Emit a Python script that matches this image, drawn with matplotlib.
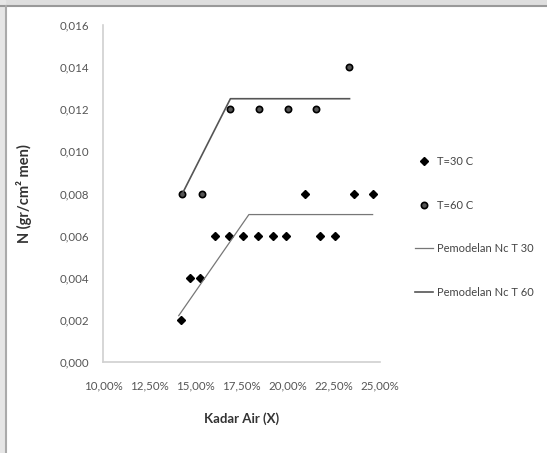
import matplotlib.pyplot as plt
from matplotlib.ticker import FuncFormatter
from matplotlib.lines import Line2D
from matplotlib.patches import Rectangle

plt.rcParams['font.family'] = ['Lato', 'DejaVu Sans']

# measured data (kadar air in %, N in gr/cm2 men)
x_t30 = [14.2, 14.7, 15.25, 16.05, 16.8, 17.6, 18.4, 19.2, 19.9, 20.95, 21.75, 22.55, 23.6, 24.6]
n_t30 = [0.002, 0.004, 0.004, 0.006, 0.006, 0.006, 0.006, 0.006, 0.006, 0.008, 0.006, 0.006, 0.008, 0.008]

x_t60 = [14.3, 15.35, 16.9, 18.45, 20.0, 21.55, 23.3]
n_t60 = [0.008, 0.008, 0.012, 0.012, 0.012, 0.012, 0.014]

# model lines
x_mod30 = [14.1, 17.9, 24.6]
n_mod30 = [0.0022, 0.007, 0.007]
x_mod60 = [14.3, 16.9, 23.35]
n_mod60 = [0.008, 0.0125, 0.0125]

fig = plt.figure(figsize=(5.47, 4.53), dpi=100)

# gray frame at top and left like the source screenshot
fig.patches.append(Rectangle((0, 1 - 5 / 453), 1, 5 / 453, transform=fig.transFigure,
                             color='#dedede', zorder=0))
fig.patches.append(Rectangle((0, 0), 5 / 547, 1, transform=fig.transFigure,
                             color='#e6e6e6', zorder=0))
fig.lines.append(Line2D([0, 1], [1 - 5.5 / 453] * 2, transform=fig.transFigure,
                        color='#999999', lw=1.5))
fig.lines.append(Line2D([5.5 / 547] * 2, [0, 1 - 5.5 / 453], transform=fig.transFigure,
                        color='#aaaaaa', lw=1.5))

ax = fig.add_axes([103 / 547, 91 / 453, 277 / 547, 337 / 453])

ax.plot(x_t30, n_t30, linestyle='none', marker='D', ms=4, color='black', label='T=30 C')
ax.plot(x_t60, n_t60, linestyle='none', marker='o', ms=4.5, mfc='#555555', mec='black',
        mew=1.2, label='T=60 C')
ax.plot(x_mod30, n_mod30, color='#777777', lw=0.9, label='Pemodelan Nc T 30')
ax.plot(x_mod60, n_mod60, color='#555555', lw=1.2, label='Pemodelan Nc T 60')

ax.set_xlim(10, 25)
ax.set_ylim(0, 0.016)
ax.set_xticks([10, 12.5, 15, 17.5, 20, 22.5, 25])
ax.set_yticks([0, 0.002, 0.004, 0.006, 0.008, 0.010, 0.012, 0.014, 0.016])
ax.xaxis.set_major_formatter(FuncFormatter(lambda v, p: ('%.2f%%' % v).replace('.', ',')))
ax.yaxis.set_major_formatter(FuncFormatter(lambda v, p: ('%.3f' % v).replace('.', ',')))
ax.tick_params(length=0, labelsize=8.3, colors='#555555')
ax.tick_params(axis='x', pad=13)
ax.tick_params(axis='y', pad=10)

for s in ['top', 'right']:
    ax.spines[s].set_visible(False)
for s in ['left', 'bottom']:
    ax.spines[s].set_color('#d0d0d0')
    ax.spines[s].set_linewidth(1.2)

ax.set_xlabel('Kadar Air (X)', fontsize=9.5, fontweight='bold', color='#333333', labelpad=15)
ax.set_ylabel('N (gr/cm² men)', fontsize=10.5, fontweight='bold', color='#333333')
ax.yaxis.set_label_coords(-0.255, 0.5)

ax.legend(loc='upper left', bbox_to_anchor=(1.11, 0.625), frameon=False, fontsize=8,
          labelcolor='#444444', labelspacing=2.95, handlelength=1.6, handletextpad=0.4,
          borderaxespad=0)

fig.savefig('out.png', dpi=100)
